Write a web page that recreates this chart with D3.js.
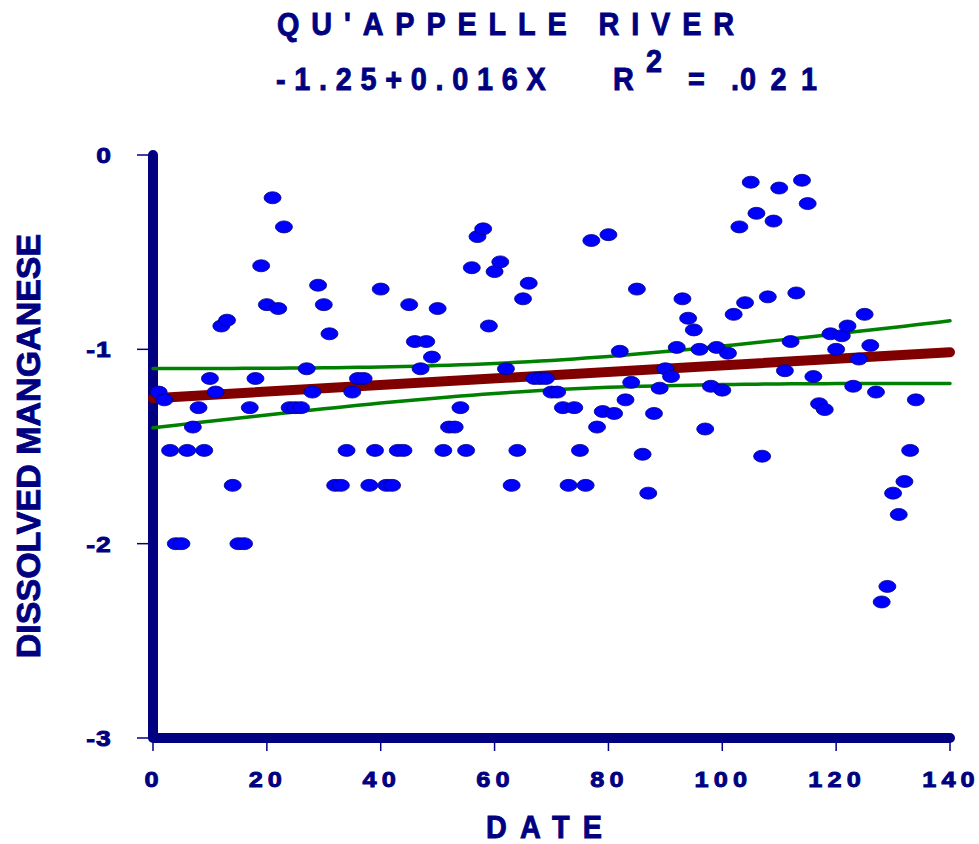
<!DOCTYPE html>
<html>
<head>
<meta charset="utf-8">
<script src="https://cdn.jsdelivr.net/npm/d3@7"></script>
<style>
  body { margin: 0; background: #fff; }
  text { font-family: Arial, "Liberation Sans", sans-serif; font-weight: bold; fill: #000080; stroke: #000080; stroke-width: 0.9px; }
</style>
</head>
<body>
<svg class="d3svg" width="979" height="844"></svg>
<script>
var navy = '#000080';
var dot_color = '#0000FF';
var fit_color = '#800000';
var band_color = '#008000';

// sample number (date index) and log dissolved manganese
var dates = [
  1, 2, 3, 4, 5, 6, 7, 8, 9, 10, 11, 12, 13, 14, 15, 16, 17, 18, 19, 20,
  21, 22, 23, 24, 25, 26, 27, 28, 29, 30, 31, 32, 33, 34, 35, 36, 37, 38, 39, 40,
  41, 42, 43, 44, 45, 46, 47, 48, 49, 50, 51, 52, 53, 54, 55, 56, 57, 58, 59, 60,
  61, 62, 63, 64, 65, 66, 67, 68, 69, 70, 71, 72, 73, 74, 75, 76, 77, 78, 79, 80,
  81, 82, 83, 84, 85, 86, 87, 88, 89, 90, 91, 92, 93, 94, 95, 96, 97, 98, 99, 100,
  101, 102, 103, 104, 105, 106, 107, 108, 109, 110, 111, 112, 113, 114, 115, 116, 117, 118, 119, 120,
  121, 122, 123, 124, 125, 126, 127, 128, 129, 130, 131, 132, 133, 134
];
var manganese = [
  -1.22, -1.26, -1.52, -2.00, -2.00, -1.52, -1.40, -1.30, -1.52, -1.15,
  -1.22, -0.88, -0.85, -1.70, -2.00, -2.00, -1.30, -1.15, -0.57, -0.77,
  -0.22, -0.79, -0.37, -1.30, -1.30, -1.30, -1.10, -1.22, -0.67, -0.77,
  -0.92, -1.70, -1.70, -1.52, -1.22, -1.15, -1.15, -1.70, -1.52, -0.69,
  -1.70, -1.70, -1.52, -1.52, -0.77, -0.96, -1.10, -0.96, -1.04, -0.79,
  -1.52, -1.40, -1.40, -1.30, -1.52, -0.58, -0.42, -0.38, -0.88, -0.60,
  -0.55, -1.10, -1.70, -1.52, -0.74, -0.66, -1.15, -1.15, -1.15, -1.22,
  -1.22, -1.30, -1.70, -1.30, -1.52, -1.70, -0.44, -1.40, -1.32, -0.41,
  -1.33, -1.01, -1.26, -1.17, -0.69, -1.54, -1.74, -1.33, -1.20, -1.10,
  -1.14, -0.99, -0.74, -0.84, -0.90, -1.00, -1.41, -1.19, -0.99, -1.21,
  -1.02, -0.82, -0.37, -0.76, -0.14, -0.30, -1.55, -0.73, -0.34, -0.17,
  -1.11, -0.96, -0.71, -0.13, -0.25, -1.14, -1.28, -1.31, -0.92, -1.00,
  -0.93, -0.88, -1.19, -1.05, -0.82, -0.98, -1.22, -2.30, -2.22, -1.74,
  -1.85, -1.68, -1.52, -1.26
];
var x_ticks = [0, 20, 40, 60, 80, 100, 120, 140];
var y_ticks = [0, -1, -2, -3];

var svg = d3.select(".d3svg");

var x = d3.scaleLinear().domain([0, 140]).range([153, 950]);
var y = d3.scaleLinear().domain([-3, 0]).range([738, 155]);

var points = dates.map(function(d, i) { return {x: d, y: manganese[i]}; });

// least squares fit with 95% confidence band for the mean
var n = points.length;
var mx = d3.mean(points, function(d) { return d.x; });
var my = d3.mean(points, function(d) { return d.y; });
var sxx = d3.sum(points, function(d) { return (d.x - mx) * (d.x - mx); });
var sxy = d3.sum(points, function(d) { return (d.x - mx) * (d.y - my); });
var slope = sxy / sxx;
var icpt = my - slope * mx;
var sse = d3.sum(points, function(d) { var r = d.y - (icpt + slope * d.x); return r * r; });
var se = Math.sqrt(sse / (n - 2));
var tval = 1.978;

var band_x = d3.range(0, 140.01, 2);
function band(sign) {
  return band_x.map(function(v) {
    var w = tval * se * Math.sqrt(1 / n + (v - mx) * (v - mx) / sxx);
    return {x: v, y: icpt + slope * v + sign * w};
  });
}

var lineFunction = d3.line()
    .x(function(d) { return x(d.x); })
    .y(function(d) { return y(d.y); });

// ticks
svg.append("g").selectAll("line")
    .data(y_ticks).enter().append("line")
    .attr("x1", 137).attr("x2", 153)
    .attr("y1", function(d) { return y(d); })
    .attr("y2", function(d) { return y(d); })
    .attr("stroke", navy).attr("stroke-width", 1.5);

svg.append("g").selectAll("line")
    .data(x_ticks).enter().append("line")
    .attr("x1", function(d) { return x(d); })
    .attr("x2", function(d) { return x(d); })
    .attr("y1", 738).attr("y2", 751)
    .attr("stroke", navy).attr("stroke-width", 1.5);

// axis lines
svg.append("path")
    .attr("d", lineFunction([{x: 0, y: 0}, {x: 0, y: -3}, {x: 140, y: -3}]))
    .attr("fill", "none")
    .attr("stroke", navy)
    .attr("stroke-width", 10)
    .attr("stroke-linecap", "round")
    .attr("stroke-linejoin", "round");

// tick labels
svg.append("g").selectAll("g")
    .data(y_ticks).enter().append("g")
    .attr("transform", function(d) { return "translate(112," + (y(d) + 8) + ") scale(1.2,1)"; })
    .append("text")
    .attr("text-anchor", "end")
    .style("font-size", "22px")
    .style("letter-spacing", "1px")
    .text(function(d) { return d; });

svg.append("g").selectAll("g")
    .data(x_ticks).enter().append("g")
    .attr("transform", function(d) { return "translate(" + (x(d) + 1) + ",787) scale(1.15,1)"; })
    .append("text")
    .attr("text-anchor", "middle")
    .style("font-size", "22px")
    .style("letter-spacing", "4.5px")
    .text(function(d) { return d; });

// fit and confidence band
svg.append("path")
    .attr("d", lineFunction(band(1)))
    .attr("fill", "none")
    .attr("stroke", band_color)
    .attr("stroke-width", 3.5)
    .attr("stroke-linecap", "round");

svg.append("path")
    .attr("d", lineFunction(band(-1)))
    .attr("fill", "none")
    .attr("stroke", band_color)
    .attr("stroke-width", 3.5)
    .attr("stroke-linecap", "round");

svg.append("path")
    .attr("d", lineFunction([{x: 0, y: icpt}, {x: 140, y: icpt + slope * 140}]))
    .attr("fill", "none")
    .attr("stroke", fit_color)
    .attr("stroke-width", 10)
    .attr("stroke-linecap", "round");

// data points
svg.append("g").selectAll("ellipse")
    .data(points).enter().append("ellipse")
    .attr("cx", function(d) { return x(d.x); })
    .attr("cy", function(d) { return y(d.y); })
    .attr("rx", 8.5)
    .attr("ry", 6)
    .attr("fill", dot_color)
    .attr("stroke", navy)
    .attr("stroke-width", 0.8);

// titles
function squeezed(txt, px, py, size, ls, sx) {
  svg.append("g")
      .attr("transform", "translate(" + px + "," + py + ") scale(" + sx + ",1)")
      .append("text")
      .style("font-size", size + "px")
      .style("letter-spacing", ls + "px")
      .text(txt);
}

squeezed("QU'APPELLE RIVER", 277, 34.5, 32, 13.2, 0.9);
squeezed("-1.25+0.016X", 276, 90, 32, 9.7, 0.9);
squeezed("R", 613, 90, 32, 0, 0.9);
squeezed("2", 646, 72, 32, 0, 0.9);
squeezed("=", 688, 90, 32, 0, 0.9);
squeezed(".", 731, 90, 32, 0, 0.9);
squeezed("021", 740, 90, 32, 16.1, 0.9);
squeezed("DATE", 486, 838, 32, 14.7, 0.9);

svg.append("text")
    .attr("transform", "translate(40,446) rotate(-90)")
    .attr("text-anchor", "middle")
    .style("font-size", "34px")
    .text("DISSOLVED MANGANESE");
</script>
</body>
</html>
